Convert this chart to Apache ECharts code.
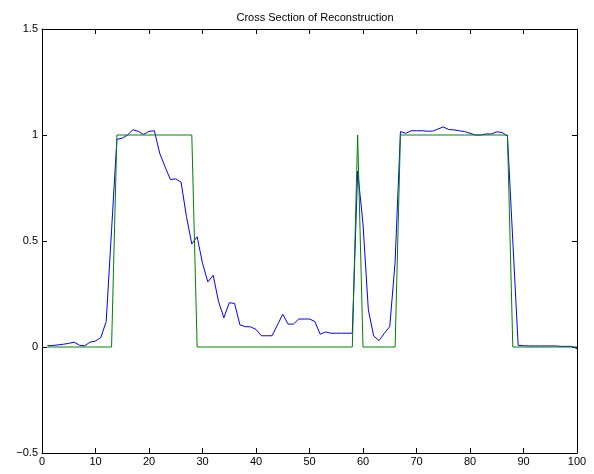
<!DOCTYPE html>
<html>
<head>
<meta charset="utf-8">
<script src="https://cdn.jsdelivr.net/npm/echarts@6/dist/echarts.min.js"></script>
<style>
  html, body { margin: 0; padding: 0; background: #fff; }
  #chart { width: 594px; height: 474px; }
</style>
</head>
<body>
<div id="chart"></div>
<script>
// reconstructed profile (blue), samples 1..100
const reconstruction = [
  0.006, 0.007, 0.010, 0.013, 0.017, 0.023, 0.008, 0.006, 0.023, 0.028,
  0.045, 0.120, 0.550, 0.980, 0.985, 1.000, 1.025, 1.017, 1.003, 1.017,
  1.020, 0.914, 0.850, 0.790, 0.793, 0.777, 0.615, 0.486, 0.520, 0.395,
  0.307, 0.338, 0.214, 0.138, 0.209, 0.205, 0.104, 0.096, 0.095, 0.083,
  0.053, 0.053, 0.053, 0.104, 0.154, 0.108, 0.108, 0.132, 0.132, 0.132,
  0.120, 0.060, 0.071, 0.065, 0.065, 0.065, 0.065, 0.065, 0.830, 0.580,
  0.175, 0.052, 0.030, 0.065, 0.096, 0.400, 1.016, 1.008, 1.020, 1.020,
  1.020, 1.018, 1.018, 1.028, 1.038, 1.026, 1.024, 1.020, 1.016, 1.008,
  1.000, 1.000, 1.005, 1.005, 1.015, 1.012, 0.995, 0.500, 0.008, 0.006,
  0.005, 0.005, 0.005, 0.005, 0.005, 0.005, 0.003, 0.003, 0.003, -0.008
];

// original phantom (green), samples 1..100
const original = [
  0, 0, 0, 0, 0, 0, 0, 0, 0, 0,
  0, 0, 0, 1, 1, 1, 1, 1, 1, 1,
  1, 1, 1, 1, 1, 1, 1, 1, 0, 0,
  0, 0, 0, 0, 0, 0, 0, 0, 0, 0,
  0, 0, 0, 0, 0, 0, 0, 0, 0, 0,
  0, 0, 0, 0, 0, 0, 0, 0, 1, 0,
  0, 0, 0, 0, 0, 0, 1, 1, 1, 1,
  1, 1, 1, 1, 1, 1, 1, 1, 1, 1,
  1, 1, 1, 1, 1, 1, 1, 0, 0, 0,
  0, 0, 0, 0, 0, 0, 0, 0, 0, 0
];

const xTicks = [0, 10, 20, 30, 40, 50, 60, 70, 80, 90, 100];
const yTicks = [-0.5, 0, 0.5, 1, 1.5];

const toPairs = arr => arr.map((v, i) => [i + 1, v]);

const font = "'Liberation Sans', Arial, sans-serif";

const chart = echarts.init(document.getElementById("chart"));

const baseX = {
  type: "value",
  min: xTicks[0],
  max: xTicks[xTicks.length - 1],
  interval: 10,
  axisLine: { show: true, onZero: false, lineStyle: { color: "#000", width: 1 } },
  axisTick: { show: true, inside: true, length: 5, lineStyle: { color: "#000" } },
  splitLine: { show: false }
};
const baseY = {
  type: "value",
  min: yTicks[0],
  max: yTicks[yTicks.length - 1],
  interval: 0.5,
  axisLine: { show: true, onZero: false, lineStyle: { color: "#000", width: 1 } },
  axisTick: { show: true, inside: true, length: 5, lineStyle: { color: "#000" } },
  splitLine: { show: false }
};

const option = {
  backgroundColor: "#fff",
  animation: false,
  title: {
    text: "Cross Section of Reconstruction",
    left: 310,
    textAlign: "center",
    top: 7,
    textStyle: { fontFamily: font, fontSize: 11, fontWeight: "normal", color: "#000" }
  },
  grid: { left: 42, right: 17, top: 29, bottom: 21 },
  xAxis: [
    Object.assign({}, baseX, {
      position: "bottom",
      axisLabel: { show: true, color: "#000", fontFamily: font, fontSize: 11, margin: 3 }
    }),
    Object.assign({}, baseX, { position: "top", axisLabel: { show: false } })
  ],
  yAxis: [
    Object.assign({}, baseY, {
      position: "left",
      axisLabel: {
        show: true, color: "#000", fontFamily: font, fontSize: 11, margin: 4,
        formatter: v => String(v).replace("-", "\u2212")
      }
    }),
    Object.assign({}, baseY, { position: "right", axisLabel: { show: false } })
  ],
  series: [
    {
      name: "Reconstruction",
      type: "line",
      data: toPairs(reconstruction),
      showSymbol: false,
      lineStyle: { color: "#0000ff", width: 1 },
      itemStyle: { color: "#0000ff" }
    },
    {
      name: "Original",
      type: "line",
      data: toPairs(original),
      showSymbol: false,
      lineStyle: { color: "#008000", width: 1 },
      itemStyle: { color: "#008000" }
    }
  ]
};

chart.setOption(option);
</script>
</body>
</html>
